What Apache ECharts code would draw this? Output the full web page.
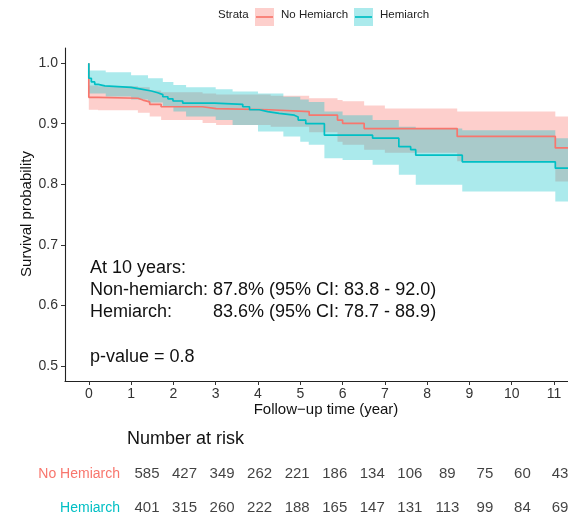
<!DOCTYPE html>
<html><head><meta charset="utf-8">
<script src="https://cdn.jsdelivr.net/npm/echarts@6/dist/echarts.min.js"></script>
<style>html,body{margin:0;padding:0;background:#fff}#c{width:568px;height:516px}</style>
</head><body><div id="c"></div>
<script>
// ---- data ----
const xTicks = [0,1,2,3,4,5,6,7,8,9,10,11];
const yTicks = [0.5,0.6,0.7,0.8,0.9,1.0];
const strata = ['No Hemiarch','Hemiarch'];

const redTime = [0,0,0.22,1.16,1.28,1.44,1.71,2.69,3.01,4.27,5.21,5.88,6.0,6.51,8.71,11.03,11.5];
const redSurv = [1.0,0.9435,0.942,0.939,0.936,0.932,0.928,0.925,0.923,0.920,0.914,0.906,0.9006,0.892,0.879,0.860,0.860];

const tealTime = [0,0,0.06,0.14,0.22,0.38,1.0,1.24,1.48,1.63,1.75,1.87,1.99,2.22,2.97,3.64,3.80,4.03,4.23,4.50,4.86,4.95,5.13,5.57,6.71,7.33,7.61,7.73,8.83,11.03,11.5];
const tealSurv = [1.0,0.975,0.969,0.965,0.9625,0.960,0.957,0.954,0.951,0.948,0.9445,0.941,0.9375,0.934,0.932,0.928,0.923,0.920,0.917,0.914,0.911,0.906,0.900,0.881,0.876,0.862,0.857,0.848,0.837,0.8265,0.8265];

const redCiTime  = [0,0.22,1.16,1.44,1.71,2.69,3.01,4.3,5.21,5.88,6.0,6.51,7.0,8.71,11.03,11.5];
const redLower   = [0.923,0.922,0.918,0.912,0.906,0.901,0.898,0.895,0.886,0.870,0.865,0.857,0.852,0.838,0.8045,0.8045];
const redUpper   = [0.963,0.962,0.960,0.955,0.952,0.950,0.948,0.946,0.942,0.939,0.937,0.930,0.925,0.920,0.912,0.912];

const tealCiTime = [0,0.4,1.0,1.4,1.75,2.0,2.3,3.0,3.4,4.0,4.6,5.0,5.2,5.57,6.0,6.71,7.33,7.73,8.83,11.03,11.5];
const tealLower  = [0.950,0.945,0.940,0.935,0.928,0.920,0.912,0.906,0.898,0.887,0.879,0.870,0.865,0.843,0.840,0.832,0.8155,0.799,0.788,0.7715,0.7715];
const tealUpper  = [0.988,0.985,0.980,0.975,0.969,0.964,0.960,0.957,0.953,0.950,0.9445,0.940,0.936,0.920,0.914,0.906,0.895,0.892,0.889,0.876,0.876];

const riskTimes = [0,1,2,3,4,5,6,7,8,9,10,11];
const riskNoHemi = [585,427,349,262,221,186,134,106,89,75,60,43];
const riskHemi   = [401,315,260,222,188,165,147,131,113,99,84,69];

// ---- styling ----
const RED = '#F8766D', TEAL = '#00BFC4';
const RED_FILL = 'rgba(248,118,109,0.35)', TEAL_FILL = 'rgba(0,191,196,0.33)';
const FONT = '"Liberation Sans", Arial, sans-serif';

function ribbon(name, times, lower, upper, fill) {
  const data = times.map((t, i) => [t, lower[i], upper[i]]);
  return {
    type: 'custom', name, data, silent: true, clip: true,
    encode: { x: 0, y: [1, 2] },
    renderItem: function (params, api) {
      if (params.dataIndex !== 0) return null;
      const pts = [];
      for (let i = 0; i < data.length; i++) {
        const tn = i < data.length - 1 ? data[i + 1][0] : data[i][0];
        pts.push(api.coord([data[i][0], data[i][2]]));
        pts.push(api.coord([tn, data[i][2]]));
      }
      for (let i = data.length - 1; i >= 0; i--) {
        const tn = i < data.length - 1 ? data[i + 1][0] : data[i][0];
        pts.push(api.coord([tn, data[i][1]]));
        pts.push(api.coord([data[i][0], data[i][1]]));
      }
      return { type: 'polygon', shape: { points: pts }, style: { fill: fill } };
    }
  };
}
function curve(name, times, surv, color) {
  return {
    type: 'line', name, step: 'end', showSymbol: false, silent: true,
    data: times.map((t, i) => [t, surv[i]]),
    lineStyle: { color: color, width: 1.7 }, itemStyle: { color: color }
  };
}
function riskRow(cat, vals) {
  return {
    type: 'scatter', xAxisIndex: 1, yAxisIndex: 1, symbolSize: 0, silent: true,
    data: riskTimes.map((t, i) => [t, cat, vals[i]]),
    label: { show: true, position: 'inside', formatter: p => String(p.value[2]),
             color: '#111', fontSize: 15, fontFamily: FONT }
  };
}

const chart = echarts.init(document.getElementById('c'), null, { renderer: 'canvas' });
chart.setOption({
  animation: false,
  backgroundColor: '#fff',
  textStyle: { fontFamily: FONT },
  grid: [
    { left: 65, top: 48, width: 503, height: 333, outerBoundsMode: 'none', containLabel: false },
    { left: 147, top: 457, width: 413, height: 68, outerBoundsMode: 'none', containLabel: false }
  ],
  xAxis: [
    { type: 'value', gridIndex: 0, min: -0.563, max: 11.33,
      splitLine: { show: false },
      axisLine: { show: true, onZero: false, lineStyle: { color: '#222', width: 1.1 } },
      axisTick: { show: true, length: 4, customValues: xTicks, lineStyle: { color: '#333' } },
      axisLabel: { customValues: xTicks, color: '#333', fontSize: 14, margin: 6, fontFamily: FONT } },
    { type: 'value', gridIndex: 1, min: 0, max: 11, show: false }
  ],
  yAxis: [
    { type: 'value', gridIndex: 0, min: 0.475, max: 1.025,
      splitLine: { show: false },
      axisLine: { show: true, onZero: false, lineStyle: { color: '#222', width: 1.1 } },
      axisTick: { show: true, length: 4, customValues: yTicks, lineStyle: { color: '#333' } },
      axisLabel: { customValues: yTicks, color: '#333', fontSize: 14, margin: 7, fontFamily: FONT,
                   formatter: v => v.toFixed(1) } },
    { type: 'category', gridIndex: 1, data: strata.slice().reverse(), inverse: false,
      axisLine: { show: false }, axisTick: { show: false }, splitLine: { show: false },
      axisLabel: { margin: 27, fontSize: 14, fontFamily: FONT,
        formatter: v => v === 'No Hemiarch' ? '{r|' + v + '}' : '{t|' + v + '}',
        rich: { r: { color: RED, fontSize: 14, fontFamily: FONT }, t: { color: TEAL, fontSize: 14, fontFamily: FONT } } } }
  ],
  series: [
    ribbon('No Hemiarch CI', redCiTime, redLower, redUpper, RED_FILL),
    curve('No Hemiarch', redTime, redSurv, RED),
    ribbon('Hemiarch CI', tealCiTime, tealLower, tealUpper, TEAL_FILL),
    curve('Hemiarch', tealTime, tealSurv, TEAL),
    riskRow('No Hemiarch', riskNoHemi),
    riskRow('Hemiarch', riskHemi)
  ],
  graphic: [
    // legend
    { type: 'text', left: 218, top: 9, style: { text: 'Strata', fontSize: 11.5, fill: '#222', fontFamily: FONT } },
    { type: 'rect', shape: { x: 255, y: 8, width: 19, height: 18 }, style: { fill: RED_FILL } },
    { type: 'line', shape: { x1: 256, y1: 17, x2: 273, y2: 17 }, style: { stroke: RED, lineWidth: 1.7 } },
    { type: 'text', left: 281, top: 9, style: { text: 'No Hemiarch', fontSize: 11.5, fill: '#222', fontFamily: FONT } },
    { type: 'rect', shape: { x: 354, y: 8, width: 19, height: 18 }, style: { fill: TEAL_FILL } },
    { type: 'line', shape: { x1: 355, y1: 17, x2: 372, y2: 17 }, style: { stroke: TEAL, lineWidth: 1.7 } },
    { type: 'text', left: 380, top: 9, style: { text: 'Hemiarch', fontSize: 11.5, fill: '#222', fontFamily: FONT } },
    // axis titles
    { type: 'text', x: 27, y: 214, rotation: Math.PI / 2,
      style: { text: 'Survival probability', fontSize: 15, fill: '#111', fontFamily: FONT, align: 'center', verticalAlign: 'middle' } },
    { type: 'text', x: 326, y: 410,
      style: { text: 'Follow\u2212up time (year)', fontSize: 15, fill: '#111', fontFamily: FONT, align: 'center', verticalAlign: 'middle' } },
    // annotation
    { type: 'text', x: 90, y: 268, style: { text: 'At 10 years:', fontSize: 18, fill: '#111', fontFamily: FONT, verticalAlign: 'middle' } },
    { type: 'text', x: 90, y: 290, style: { text: 'Non-hemiarch: 87.8% (95% CI: 83.8 - 92.0)', fontSize: 18, fill: '#111', fontFamily: FONT, verticalAlign: 'middle' } },
    { type: 'text', x: 90, y: 312, style: { text: 'Hemiarch:', fontSize: 18, fill: '#111', fontFamily: FONT, verticalAlign: 'middle' } },
    { type: 'text', x: 213, y: 312, style: { text: '83.6% (95% CI: 78.7 - 88.9)', fontSize: 18, fill: '#111', fontFamily: FONT, verticalAlign: 'middle' } },
    { type: 'text', x: 90, y: 357, style: { text: 'p-value = 0.8', fontSize: 18, fill: '#111', fontFamily: FONT, verticalAlign: 'middle' } },
    // risk table title
    { type: 'text', x: 127, y: 439, style: { text: 'Number at risk', fontSize: 18, fill: '#111', fontFamily: FONT, verticalAlign: 'middle' } }
  ]
});
</script></body></html>
